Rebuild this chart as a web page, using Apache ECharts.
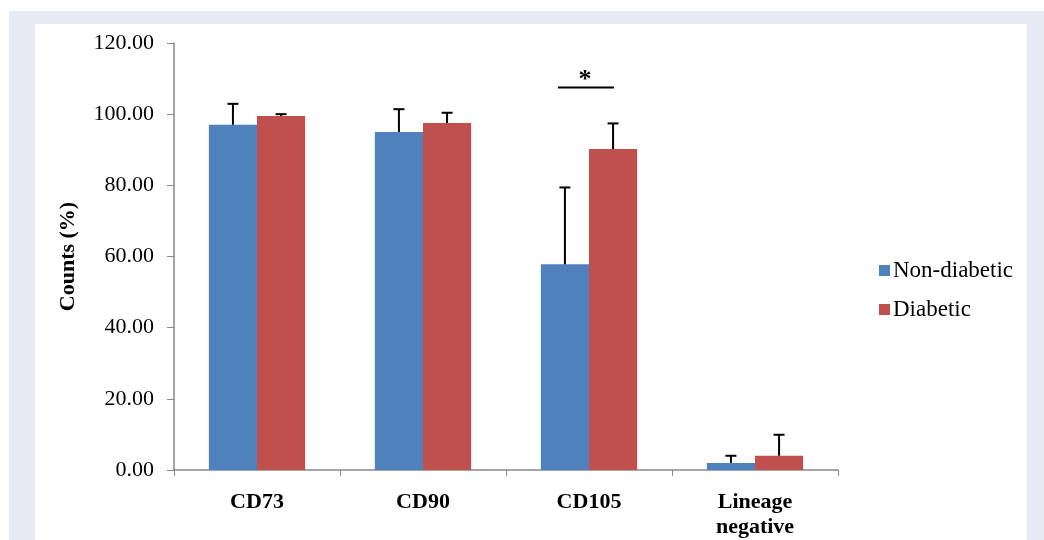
<!DOCTYPE html>
<html><head><meta charset="utf-8">
<script src="https://cdn.jsdelivr.net/npm/echarts@6/dist/echarts.min.js"></script>
<style>html,body{margin:0;padding:0;background:#fff}#c{width:1044px;height:540px}</style>
</head><body><div id="c"></div>
<script>
const categories = ['CD73', 'CD90', 'CD105', 'Lineage\nnegative'];
const nonDiabetic = [97.0, 95.0, 57.8, 2.0];
const nonDiabeticErr = [5.9, 6.4, 21.6, 2.0];
const diabetic = [99.5, 97.5, 90.2, 4.0];
const diabeticErr = [0.5, 2.9, 7.2, 5.9];
const significance = [[2, 107.5, '*']];
const yTicks = [0, 20, 40, 60, 80, 100, 120];

const serif = '"Liberation Serif", "Times New Roman", serif';
const chart = echarts.init(document.getElementById('c'), null, {renderer: 'canvas'});

function errItem(side) {
  return function (params, api) {
    const i = api.value(0);
    const top = api.coord([i, api.value(1) + api.value(2)]);
    const base = api.coord([i, api.value(1)]);
    const band = api.size([1, 0])[0];
    const bw = band * 0.58 / 2;
    const x = base[0] + side * bw / 2;
    return {
      type: 'group',
      children: [
        {type: 'line', shape: {x1: x, y1: base[1], x2: x, y2: top[1]}, style: {stroke: '#000', lineWidth: 2}},
        {type: 'line', shape: {x1: x - 5.5, y1: top[1], x2: x + 5.5, y2: top[1]}, style: {stroke: '#000', lineWidth: 2}}
      ]
    };
  };
}

const option = {
  animation: false,
  backgroundColor: '#ffffff',
  graphic: [
    {type: 'rect', z: -10, shape: {x: 9, y: 11, width: 1035, height: 529}, style: {fill: '#e6eaf5'}},
    {type: 'rect', z: -9, shape: {x: 35, y: 24, width: 992, height: 516}, style: {fill: '#ffffff'}}
  ],
  grid: {left: 174, right: 206, top: 43, bottom: 69},
  legend: {
    orient: 'vertical', left: 874, top: 254, itemWidth: 11, itemHeight: 11, itemGap: 16,
    icon: 'rect',
    data: ['Non-diabetic', 'Diabetic'],
    textStyle: {fontFamily: serif, fontSize: 23, color: '#000', padding: [0, 0, 0, -2]}
  },
  xAxis: {
    type: 'category', data: categories,
    axisLine: {lineStyle: {color: '#898989', width: 1.5}},
    axisTick: {show: true, length: 6, lineStyle: {color: '#898989'}},
    axisLabel: {fontFamily: serif, fontSize: 22, fontWeight: 'bold', color: '#000', margin: 20, lineHeight: 25}
  },
  yAxis: {
    type: 'value', min: 0, max: 120, interval: 20,
    name: 'Counts (%)', nameLocation: 'middle', nameGap: 95, nameRotate: 90,
    nameTextStyle: {fontFamily: serif, fontSize: 22, fontWeight: 'bold', color: '#000'},
    axisLine: {show: true, lineStyle: {color: '#898989', width: 1.5}},
    axisTick: {show: true, length: 7, lineStyle: {color: '#898989'}},
    splitLine: {show: false},
    axisLabel: {fontFamily: serif, fontSize: 22, color: '#000', margin: 20,
      formatter: v => yTicks.includes(v) ? v.toFixed(2) : ''}
  },
  series: [
    {name: 'Non-diabetic', type: 'bar', data: nonDiabetic, barGap: '0%', barCategoryGap: '42%',
      itemStyle: {color: '#4f81bd'}},
    {name: 'Diabetic', type: 'bar', data: diabetic, barGap: '0%', barCategoryGap: '42%',
      itemStyle: {color: '#c0504d'}},
    {type: 'custom', renderItem: errItem(-1), z: 5,
      data: nonDiabetic.map((v, i) => [i, v, nonDiabeticErr[i]])},
    {type: 'custom', renderItem: errItem(1), z: 5,
      data: diabetic.map((v, i) => [i, v, diabeticErr[i]])},
    {type: 'custom', z: 5, data: significance,
      renderItem: function (params, api) {
        const p = api.coord([api.value(0), api.value(1)]);
        return {type: 'group', children: [
          {type: 'line', shape: {x1: p[0] - 31, y1: p[1], x2: p[0] + 25, y2: p[1]}, style: {stroke: '#000', lineWidth: 2}},
          {type: 'text', style: {x: p[0] - 4, y: p[1] + 6, text: significance[params.dataIndex][2], fontFamily: serif, fontSize: 26, fontWeight: 'bold', fill: '#000', align: 'center', verticalAlign: 'bottom'}}
        ]};
      }}
  ]
};
chart.setOption(option);
</script></body></html>
